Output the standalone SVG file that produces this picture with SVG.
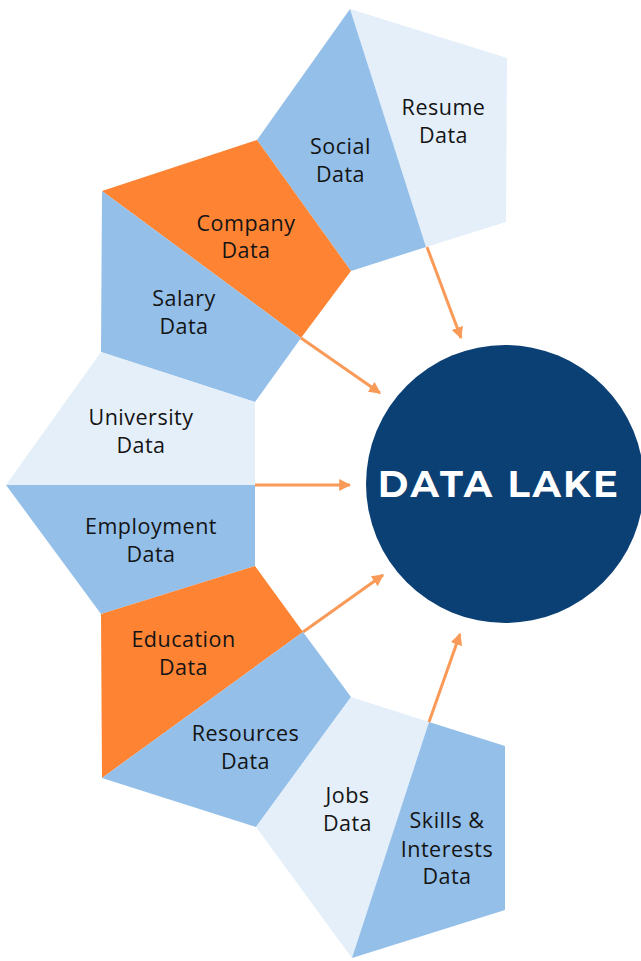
<svg xmlns="http://www.w3.org/2000/svg" width="641" height="961" viewBox="0 0 641 961">
<style>
.blue{fill:#93BFE9}
.pale{fill:#E4EFFA}
.orange{fill:#FE8434}
.lbl{font-family:"Open Sans",Lato,"Liberation Sans",sans-serif;font-size:21.5px;letter-spacing:0.5px;fill:#141414;text-anchor:middle}
.arrow{stroke:#F99A58;stroke-width:3;fill:none;marker-end:url(#ah)}
</style>
<defs>
<marker id="ah" viewBox="0 0 10 10" refX="9" refY="5" markerWidth="4" markerHeight="4" orient="auto" markerUnits="strokeWidth">
<path d="M0,0 L10,5 L0,10 Z" fill="#F99A58"/>
</marker>
</defs>
<rect width="641" height="961" fill="#fff"/>
<g id="resume"><polygon class="pale" points="350,9 507,58 506,222 426,247"/><text class="lbl" x="443.5" y="115">Resume</text><text class="lbl" x="443.5" y="143">Data</text></g>
<g id="social"><polygon class="blue" points="350,9 426,247 351,271 257,140"/><text class="lbl" x="340.5" y="154">Social</text><text class="lbl" x="340.5" y="182">Data</text></g>
<g id="company"><polygon class="orange" points="257,140 351,271 301,338 102,191"/><text class="lbl" x="246" y="231">Company</text><text class="lbl" x="246" y="258">Data</text></g>
<g id="salary"><polygon class="blue" points="102,191 301,338 255,402 101,352"/><text class="lbl" x="184" y="306">Salary</text><text class="lbl" x="184" y="334">Data</text></g>
<g id="university"><polygon class="pale" points="101,352 255,402 255,485 6,485"/><text class="lbl" x="141" y="425">University</text><text class="lbl" x="141" y="453">Data</text></g>
<g id="employment"><polygon class="blue" points="6,485 255,485 255,566 101,614"/><text class="lbl" x="151" y="534">Employment</text><text class="lbl" x="151" y="562">Data</text></g>
<g id="education"><polygon class="orange" points="101,614 255,566 303,632 102,778"/><text class="lbl" x="183.5" y="647">Education</text><text class="lbl" x="183.5" y="675">Data</text></g>
<g id="resources"><polygon class="blue" points="303,632 351,697 256,827 102,778"/><text class="lbl" x="245.5" y="741">Resources</text><text class="lbl" x="245.5" y="769">Data</text></g>
<g id="jobs"><polygon class="pale" points="351,697 429,722 352,958 256,827"/><text class="lbl" x="347.5" y="803">Jobs</text><text class="lbl" x="347.5" y="831">Data</text></g>
<g id="skills"><polygon class="blue" points="429,722 505,746 505,910 352,958"/><text class="lbl" x="447" y="828">Skills &amp;</text><text class="lbl" x="447" y="857">Interests</text><text class="lbl" x="447" y="884">Data</text></g>
<g id="connectors">
<line class="arrow" x1="427" y1="247" x2="461" y2="338"/>
<line class="arrow" x1="301" y1="338" x2="380" y2="393"/>
<line class="arrow" x1="255" y1="485" x2="350" y2="485"/>
<line class="arrow" x1="303" y1="632" x2="383" y2="575"/>
<line class="arrow" x1="429" y1="722" x2="460" y2="634"/>
</g>
<g id="datalake">
<circle cx="505" cy="484" r="139" fill="#0B4075"/>
<text x="499" y="497" font-family="Montserrat,Lato,'Open Sans','Liberation Sans',sans-serif" font-weight="bold" font-size="37" letter-spacing="2.4" fill="#fff" text-anchor="middle">DATA LAKE</text>
</g>
</svg>
